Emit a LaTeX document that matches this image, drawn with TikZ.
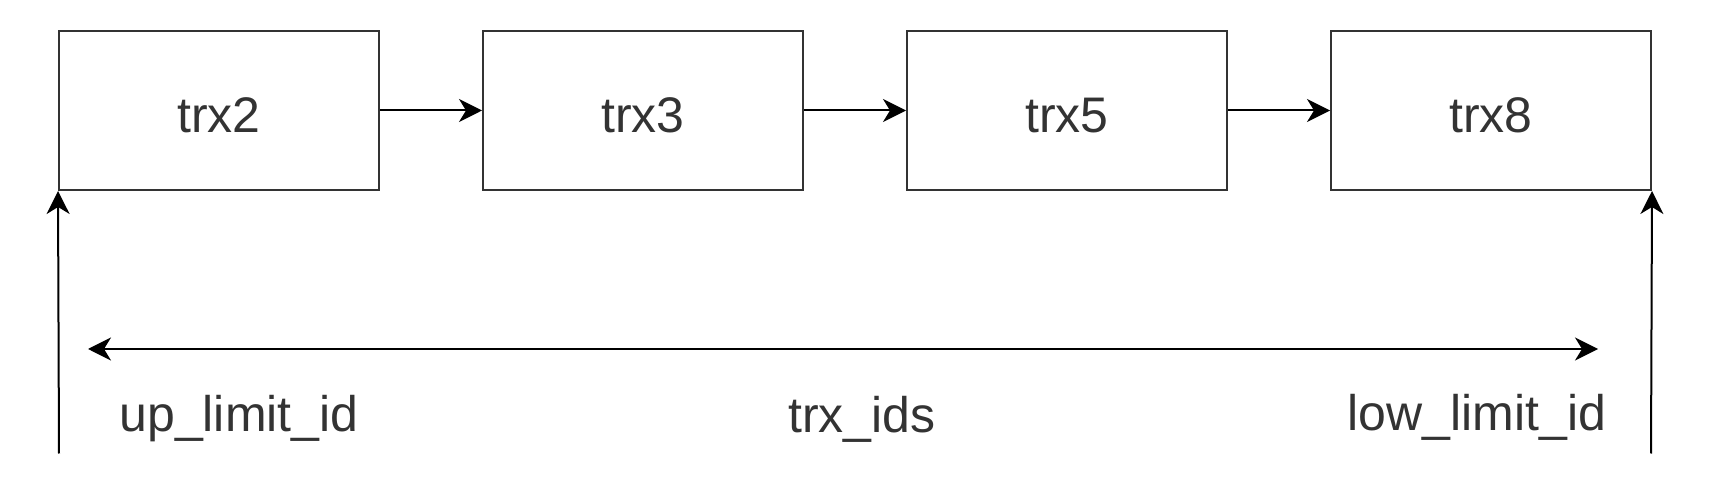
\documentclass[tikz,border=0pt]{standalone}
\usepackage{fontspec}
\setmainfont{Liberation Sans}
\usetikzlibrary{arrows.meta}
\definecolor{txt}{HTML}{333333}
\definecolor{ln}{HTML}{333333}
\begin{document}
\begin{tikzpicture}[x=0.5pt,y=-0.5pt,
  trxbox/.style={draw=ln,line width=1pt,minimum width=160pt,minimum height=79.5pt,inner sep=0pt,text height=22.5pt,text depth=0pt,font=\fontsize{25}{30}\selectfont,text=txt},
  lbl/.style={font=\fontsize{25}{30}\selectfont,text=txt,inner sep=0pt},
  conn/.style={draw=black,line width=1pt,-{Stealth[length=11.5pt,width=11.5pt,inset=3.5pt]}},
  dconn/.style={draw=black,line width=1pt,{Stealth[length=11.5pt,width=11.5pt,inset=3.5pt]}-{Stealth[length=11.5pt,width=11.5pt,inset=3.5pt]}}]
\useasboundingbox (0,0) rectangle (1722,501);
\node[trxbox] (b1) at (219,110.5) {trx2};
\node[trxbox] (b2) at (643,110.5) {trx3};
\node[trxbox] (b3) at (1067,110.5) {trx5};
\node[trxbox] (b4) at (1491,110.5) {trx8};
\draw[conn] (b1) -- (b2);
\draw[conn] (b2) -- (b3);
\draw[conn] (b3) -- (b4);
\coordinate (lb) at (59,453.5);
\coordinate (rb) at (1651,453.5);
\draw[conn] (lb) -- (b1.south west);
\draw[conn] (rb) -- (b4.south east);
\coordinate (da) at (88,349);
\coordinate (db) at (1598,349);
\draw[dconn] (da) -- (db);
\node[lbl] (up) at (239,419) {up\_limit\_id};
\node[lbl] (ids) at (862,419.5) {trx\_ids};
\node[lbl] (low) at (1477,417.5) {low\_limit\_id};
\end{tikzpicture}
\end{document}
